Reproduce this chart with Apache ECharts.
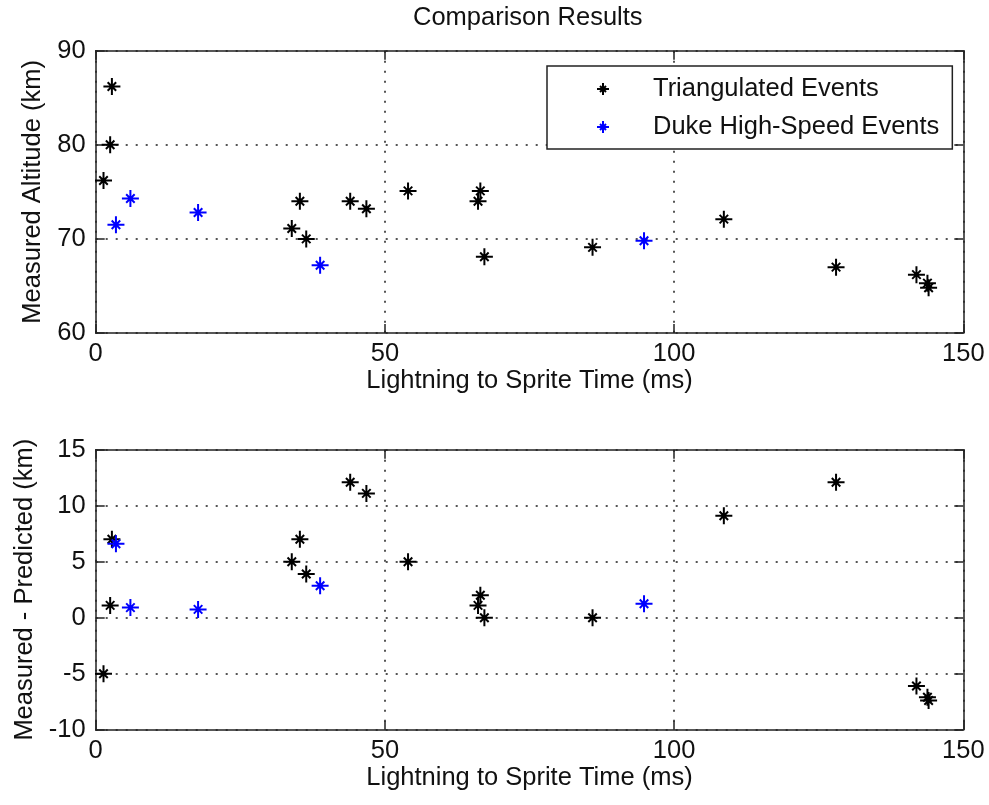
<!DOCTYPE html>
<html>
<head>
<meta charset="utf-8">
<script src="https://cdn.jsdelivr.net/npm/echarts@6/dist/echarts.min.js"></script>
<style>
html,body{margin:0;padding:0;background:#fff;}
#chart{width:989px;height:805px;}
</style>
</head>
<body>
<div id="chart"></div>
<script>
// ---- data ----
const titleText = 'Comparison Results';
const xLabel = 'Lightning to Sprite Time (ms)';
const yLabelTop = 'Measured Altitude (km)';
const yLabelBottom = 'Measured - Predicted (km)';
const seriesNames = ['Triangulated Events', 'Duke High-Speed Events'];

const triTime = [2.8, 2.5, 1.35, 35.3, 33.9, 36.4, 44.0, 46.8, 54.0, 66.5, 66.1, 67.2, 85.9, 108.6, 128.0, 141.9, 143.8, 144.0];
const triAlt  = [86.2, 80.0, 76.2, 74.0, 71.1, 70.0, 74.0, 73.2, 75.1, 75.1, 74.0, 68.1, 69.1, 72.1, 67.0, 66.2, 65.3, 64.8];
const triDiff = [7.0, 1.1, -5.0, 7.0, 5.0, 3.9, 12.1, 11.1, 5.0, 2.0, 1.1, 0.0, 0.0, 9.1, 12.1, -6.1, -7.1, -7.4];

const dukeTime = [3.5, 6.0, 17.7, 38.8, 94.8];
const dukeAlt  = [71.5, 74.3, 72.8, 67.2, 69.8];
const dukeDiff = [6.6, 0.9, 0.74, 2.86, 1.25];

const xRange = [0, 150, 50];
const yTopRange = [60, 90, 10];
const yBottomRange = [-10, 15, 5];

// ---- helpers ----
const zip = (a, b) => a.map((v, i) => [v, b[i]]);
const FONT = 'Liberation Sans';
const FS = 25.5;
const star = 'path://M-1 0L1 0M0 -1L0 1M-0.5 -0.5L0.5 0.5M-0.5 0.5L0.5 -0.5';
const axisLineStyle = {color: '#222', width: 1.5};

function xAxes(gridIndex) {
  return [
    {
      type: 'value', gridIndex, min: xRange[0], max: xRange[1], interval: xRange[2],
      position: 'bottom',
      name: xLabel, nameLocation: 'middle', nameGap: 35,
      nameTextStyle: {fontFamily: FONT, fontSize: FS, color: '#111'},
      axisLine: {show: true, onZero: false, lineStyle: axisLineStyle},
      axisTick: {show: true, inside: true, length: 9, lineStyle: axisLineStyle},
      axisLabel: {show: true, margin: 8, fontFamily: FONT, fontSize: FS, color: '#111'},
      splitLine: {show: true, lineStyle: {color: '#555', width: 2, type: [2, 8]}}
    },
    {
      type: 'value', gridIndex, min: xRange[0], max: xRange[1], interval: xRange[2],
      position: 'top',
      axisLine: {show: true, onZero: false, lineStyle: axisLineStyle},
      axisTick: {show: true, inside: true, length: 9, lineStyle: axisLineStyle},
      axisLabel: {show: false},
      splitLine: {show: false}
    }
  ];
}
function yAxes(gridIndex, range, name) {
  return [
    {
      type: 'value', gridIndex, min: range[0], max: range[1], interval: range[2],
      position: 'left',
      name, nameLocation: 'middle', nameGap: 46, nameRotate: 90,
      nameTextStyle: {fontFamily: FONT, fontSize: FS, color: '#111'},
      axisLine: {show: true, onZero: false, lineStyle: axisLineStyle},
      axisTick: {show: true, inside: true, length: 9, lineStyle: axisLineStyle},
      axisLabel: {show: true, margin: 10, fontFamily: FONT, fontSize: FS, color: '#111'},
      splitLine: {show: true, lineStyle: {color: '#555', width: 2, type: [2, 8]}}
    },
    {
      type: 'value', gridIndex, min: range[0], max: range[1], interval: range[2],
      position: 'right',
      axisLine: {show: true, onZero: false, lineStyle: axisLineStyle},
      axisTick: {show: true, inside: true, length: 9, lineStyle: axisLineStyle},
      axisLabel: {show: false},
      splitLine: {show: false}
    }
  ];
}
function scatter(name, data, color, xi, yi) {
  return {
    type: 'scatter', name, data, xAxisIndex: xi, yAxisIndex: yi,
    symbol: star, symbolSize: 17,
    itemStyle: {color: 'transparent', borderColor: color, borderWidth: 2, opacity: 1},
    emphasis: {disabled: true},
    clip: false
  };
}

const chart = echarts.init(document.getElementById('chart'), null, {renderer: 'canvas'});
chart.setOption({
  animation: false,
  backgroundColor: '#fff',
  textStyle: {fontFamily: FONT},
  title: {
    text: titleText, left: 413, top: 5, padding: 0,
    textStyle: {fontFamily: FONT, fontSize: FS, fontWeight: 'normal', color: '#111'}
  },
  legend: {
    data: seriesNames.map((n, i) => ({name: n, icon: star, itemStyle: {color: 'transparent', borderColor: i === 0 ? '#000' : '#0000ff', borderWidth: 2}})),
    orient: 'vertical', left: 547, top: 66,
    padding: [10, 13, 9, 49], itemGap: 12,
    itemWidth: 90, itemHeight: 12,
    backgroundColor: '#fff', borderColor: '#222', borderWidth: 1.5, borderRadius: 0,
    textStyle: {fontFamily: FONT, fontSize: FS, color: '#111'},
    selectedMode: false
  },
  grid: [
    {left: 95.7, right: 25.7, top: 50.7, height: 282.3, containLabel: false},
    {left: 95.7, right: 25.7, top: 449.7, height: 280, containLabel: false}
  ],
  xAxis: [...xAxes(0), ...xAxes(1)],
  yAxis: [...yAxes(0, yTopRange, yLabelTop), ...yAxes(1, yBottomRange, yLabelBottom)],
  series: [
    scatter(seriesNames[0], zip(triTime, triAlt), '#000', 0, 0),
    scatter(seriesNames[1], zip(dukeTime, dukeAlt), '#0000ff', 0, 0),
    scatter(seriesNames[0], zip(triTime, triDiff), '#000', 2, 2),
    scatter(seriesNames[1], zip(dukeTime, dukeDiff), '#0000ff', 2, 2)
  ]
});
</script>
</body>
</html>
